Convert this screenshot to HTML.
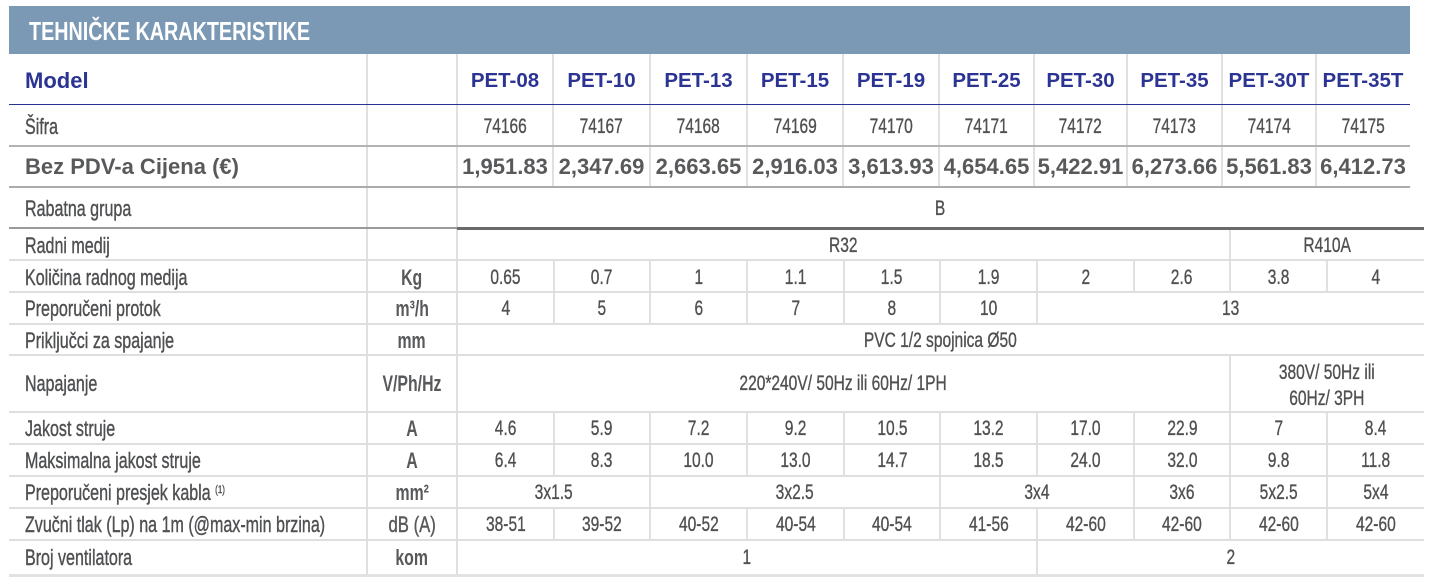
<!DOCTYPE html>
<html><head><meta charset="utf-8">
<style>
html,body{margin:0;padding:0;background:#fff;}
body{width:1437px;height:581px;position:relative;overflow:hidden;font-family:"Liberation Sans",Arial,sans-serif;}
.bar{position:absolute;left:9px;top:6px;width:1401px;height:48px;background:#7b99b5;}
.title{position:absolute;left:29px;top:16px;height:30px;line-height:30px;color:#fff;font-weight:bold;font-size:26px;white-space:nowrap;}
.title span{display:inline-block;transform:scaleX(.76);transform-origin:left center;}
.v{position:absolute;width:2px;background:#e0e0e0;}
.h{position:absolute;height:2px;background:#dedede;}
.t{position:absolute;height:30px;line-height:30px;text-align:center;white-space:nowrap;color:#505052;font-size:21px;-webkit-text-stroke:0.35px #505052;}
.t span{display:inline-block;transform:scaleX(.74);}
.l{position:absolute;left:25px;height:30px;line-height:30px;white-space:nowrap;color:#4f5052;font-size:22px;-webkit-text-stroke:0.4px #4f5052;}
.l span{display:inline-block;transform:scaleX(.73);transform-origin:left center;}
.u{position:absolute;left:367px;width:90px;height:30px;line-height:30px;text-align:center;white-space:nowrap;color:#58595b;font-size:22px;font-weight:bold;}
.u span{display:inline-block;transform:scaleX(.72);}
.m{position:absolute;height:30px;line-height:30px;text-align:center;white-space:nowrap;color:#2b3393;font-size:20.5px;font-weight:bold;}
.p{position:absolute;height:30px;line-height:30px;text-align:center;white-space:nowrap;color:#58595b;font-size:22px;font-weight:bold;}
sup{font-size:11px;vertical-align:top;position:relative;top:-3px;}
</style></head><body>
<div class="bar"></div>
<div class="title"><span>TEHNIČKE KARAKTERISTIKE</span></div>

<!-- vertical lines -->
<div class="v" style="left:366px;top:54px;height:521px"></div>
<div class="v" style="left:456px;top:54px;height:521px"></div>
<!-- top grid -->
<div class="v" style="left:552px;top:54px;height:133px"></div>
<div class="v" style="left:649px;top:54px;height:133px"></div>
<div class="v" style="left:746px;top:54px;height:133px"></div>
<div class="v" style="left:842px;top:54px;height:133px"></div>
<div class="v" style="left:938px;top:54px;height:133px"></div>
<div class="v" style="left:1033px;top:54px;height:133px"></div>
<div class="v" style="left:1126px;top:54px;height:133px"></div>
<div class="v" style="left:1221px;top:54px;height:133px"></div>
<div class="v" style="left:1315px;top:54px;height:133px"></div>
<!-- Radni medij -->
<div class="v" style="left:1229px;top:228px;height:32px"></div>
<!-- Kolicina -->
<div class="v" style="left:553px;top:260px;height:32px"></div>
<div class="v" style="left:649px;top:260px;height:32px"></div>
<div class="v" style="left:746px;top:260px;height:32px"></div>
<div class="v" style="left:843px;top:260px;height:32px"></div>
<div class="v" style="left:939px;top:260px;height:32px"></div>
<div class="v" style="left:1036px;top:260px;height:32px"></div>
<div class="v" style="left:1133px;top:260px;height:32px"></div>
<div class="v" style="left:1229px;top:260px;height:32px"></div>
<div class="v" style="left:1326px;top:260px;height:32px"></div>
<!-- Protok -->
<div class="v" style="left:553px;top:292px;height:32px"></div>
<div class="v" style="left:649px;top:292px;height:32px"></div>
<div class="v" style="left:746px;top:292px;height:32px"></div>
<div class="v" style="left:843px;top:292px;height:32px"></div>
<div class="v" style="left:939px;top:292px;height:32px"></div>
<div class="v" style="left:1036px;top:292px;height:32px"></div>
<!-- Napajanje -->
<div class="v" style="left:1229px;top:355px;height:57px"></div>
<!-- Jakost + Maks -->
<div class="v" style="left:553px;top:412px;height:64px"></div>
<div class="v" style="left:649px;top:412px;height:64px"></div>
<div class="v" style="left:746px;top:412px;height:64px"></div>
<div class="v" style="left:843px;top:412px;height:64px"></div>
<div class="v" style="left:939px;top:412px;height:64px"></div>
<div class="v" style="left:1036px;top:412px;height:64px"></div>
<div class="v" style="left:1133px;top:412px;height:64px"></div>
<div class="v" style="left:1229px;top:412px;height:64px"></div>
<div class="v" style="left:1326px;top:412px;height:64px"></div>
<!-- Presjek -->
<div class="v" style="left:649px;top:476px;height:32px"></div>
<div class="v" style="left:939px;top:476px;height:32px"></div>
<div class="v" style="left:1133px;top:476px;height:32px"></div>
<div class="v" style="left:1229px;top:476px;height:32px"></div>
<div class="v" style="left:1326px;top:476px;height:32px"></div>
<!-- Zvucni -->
<div class="v" style="left:553px;top:508px;height:32px"></div>
<div class="v" style="left:649px;top:508px;height:32px"></div>
<div class="v" style="left:746px;top:508px;height:32px"></div>
<div class="v" style="left:843px;top:508px;height:32px"></div>
<div class="v" style="left:939px;top:508px;height:32px"></div>
<div class="v" style="left:1036px;top:508px;height:32px"></div>
<div class="v" style="left:1133px;top:508px;height:32px"></div>
<div class="v" style="left:1229px;top:508px;height:32px"></div>
<div class="v" style="left:1326px;top:508px;height:32px"></div>
<!-- Broj -->
<div class="v" style="left:1036px;top:540px;height:35px"></div>

<!-- horizontal lines -->
<div class="h" style="left:9px;top:103.5px;width:1401px;height:1.5px;background:#2b3190"></div>
<div class="h" style="left:9px;top:145px;width:1401px;height:2px;background:#b3b3b3"></div>
<div class="h" style="left:9px;top:186px;width:1401px;height:2px;background:#ababab"></div>
<div class="h" style="left:9px;top:227px;width:448px;height:2px;background:#9a9a9a"></div>
<div class="h" style="left:457px;top:226.5px;width:967px;height:3px;background:#6a6a6a"></div>
<div class="h" style="left:9px;top:259px;width:1415px"></div>
<div class="h" style="left:9px;top:291px;width:1415px"></div>
<div class="h" style="left:9px;top:322.5px;width:1415px"></div>
<div class="h" style="left:9px;top:354px;width:1415px"></div>
<div class="h" style="left:9px;top:410.5px;width:1415px"></div>
<div class="h" style="left:9px;top:442.5px;width:1415px"></div>
<div class="h" style="left:9px;top:474.5px;width:1415px"></div>
<div class="h" style="left:9px;top:506.5px;width:1415px"></div>
<div class="h" style="left:9px;top:538.5px;width:1415px"></div>
<div class="h" style="left:9px;top:574px;width:1415px;height:3px;background:#e2e2e2"></div>

<!-- Model row -->
<div class="m" style="left:25px;top:65.5px;font-size:22px;text-align:left">Model</div>
<div class="m" style="left:457px;width:96px;top:65.5px">PET-08</div>
<div class="m" style="left:553px;width:97px;top:65.5px">PET-10</div>
<div class="m" style="left:650px;width:97px;top:65.5px">PET-13</div>
<div class="m" style="left:747px;width:96px;top:65.5px">PET-15</div>
<div class="m" style="left:843px;width:96px;top:65.5px">PET-19</div>
<div class="m" style="left:939px;width:95px;top:65.5px">PET-25</div>
<div class="m" style="left:1034px;width:93px;top:65.5px">PET-30</div>
<div class="m" style="left:1127px;width:95px;top:65.5px">PET-35</div>
<div class="m" style="left:1222px;width:94px;top:65.5px">PET-30T</div>
<div class="m" style="left:1316px;width:94px;top:65.5px">PET-35T</div>

<!-- Sifra -->
<div class="l" style="top:112px"><span>Šifra</span></div>
<div class="t" style="left:457px;width:96px;top:112px"><span>74166</span></div>
<div class="t" style="left:553px;width:97px;top:112px"><span>74167</span></div>
<div class="t" style="left:650px;width:97px;top:112px"><span>74168</span></div>
<div class="t" style="left:747px;width:96px;top:112px"><span>74169</span></div>
<div class="t" style="left:843px;width:96px;top:112px"><span>74170</span></div>
<div class="t" style="left:939px;width:95px;top:112px"><span>74171</span></div>
<div class="t" style="left:1034px;width:93px;top:112px"><span>74172</span></div>
<div class="t" style="left:1127px;width:95px;top:112px"><span>74173</span></div>
<div class="t" style="left:1222px;width:94px;top:112px"><span>74174</span></div>
<div class="t" style="left:1316px;width:94px;top:112px"><span>74175</span></div>

<!-- Price -->
<div class="p" style="left:25px;top:152px;text-align:left">Bez PDV-a Cijena (€)</div>
<div class="p" style="left:457px;width:96px;top:152px">1,951.83</div>
<div class="p" style="left:553px;width:97px;top:152px">2,347.69</div>
<div class="p" style="left:650px;width:97px;top:152px">2,663.65</div>
<div class="p" style="left:747px;width:96px;top:152px">2,916.03</div>
<div class="p" style="left:843px;width:96px;top:152px">3,613.93</div>
<div class="p" style="left:939px;width:95px;top:152px">4,654.65</div>
<div class="p" style="left:1034px;width:93px;top:152px">5,422.91</div>
<div class="p" style="left:1127px;width:95px;top:152px">6,273.66</div>
<div class="p" style="left:1222px;width:94px;top:152px">5,561.83</div>
<div class="p" style="left:1316px;width:94px;top:152px">6,412.73</div>

<!-- Rabatna -->
<div class="l" style="top:194px"><span>Rabatna grupa</span></div>
<div class="t" style="left:457px;width:967px;top:194px"><span>B</span></div>

<!-- Radni medij -->
<div class="l" style="top:230.5px"><span>Radni medij</span></div>
<div class="t" style="left:457px;width:773px;top:230.5px"><span>R32</span></div>
<div class="t" style="left:1230px;width:194px;top:230.5px"><span>R410A</span></div>

<!-- Kolicina -->
<div class="l" style="top:262.5px"><span>Količina radnog medija</span></div>
<div class="u" style="top:262.5px"><span>Kg</span></div>
<div class="t" style="left:457px;width:97px;top:262.5px"><span>0.65</span></div>
<div class="t" style="left:554px;width:96px;top:262.5px"><span>0.7</span></div>
<div class="t" style="left:650px;width:97px;top:262.5px"><span>1</span></div>
<div class="t" style="left:747px;width:97px;top:262.5px"><span>1.1</span></div>
<div class="t" style="left:844px;width:96px;top:262.5px"><span>1.5</span></div>
<div class="t" style="left:940px;width:97px;top:262.5px"><span>1.9</span></div>
<div class="t" style="left:1037px;width:97px;top:262.5px"><span>2</span></div>
<div class="t" style="left:1134px;width:96px;top:262.5px"><span>2.6</span></div>
<div class="t" style="left:1230px;width:97px;top:262.5px"><span>3.8</span></div>
<div class="t" style="left:1327px;width:97px;top:262.5px"><span>4</span></div>

<!-- Protok -->
<div class="l" style="top:294px"><span>Preporučeni protok</span></div>
<div class="u" style="top:294px"><span>m³/h</span></div>
<div class="t" style="left:457px;width:97px;top:294px"><span>4</span></div>
<div class="t" style="left:554px;width:96px;top:294px"><span>5</span></div>
<div class="t" style="left:650px;width:97px;top:294px"><span>6</span></div>
<div class="t" style="left:747px;width:97px;top:294px"><span>7</span></div>
<div class="t" style="left:844px;width:96px;top:294px"><span>8</span></div>
<div class="t" style="left:940px;width:97px;top:294px"><span>10</span></div>
<div class="t" style="left:1037px;width:387px;top:294px"><span>13</span></div>

<!-- Prikljucci -->
<div class="l" style="top:325.5px"><span>Priključci za spajanje</span></div>
<div class="u" style="top:325.5px"><span>mm</span></div>
<div class="t" style="left:457px;width:967px;top:325.5px"><span>PVC 1/2 spojnica Ø50</span></div>

<!-- Napajanje -->
<div class="l" style="top:369px"><span>Napajanje</span></div>
<div class="u" style="top:369px"><span>V/Ph/Hz</span></div>
<div class="t" style="left:457px;width:773px;top:369px"><span>220*240V/ 50Hz ili 60Hz/ 1PH</span></div>
<div class="t" style="left:1230px;width:194px;top:357.5px"><span>380V/ 50Hz ili</span></div>
<div class="t" style="left:1230px;width:194px;top:384px"><span>60Hz/ 3PH</span></div>

<!-- Jakost -->
<div class="l" style="top:414px"><span>Jakost struje</span></div>
<div class="u" style="top:414px"><span>A</span></div>
<div class="t" style="left:457px;width:97px;top:414px"><span>4.6</span></div>
<div class="t" style="left:554px;width:96px;top:414px"><span>5.9</span></div>
<div class="t" style="left:650px;width:97px;top:414px"><span>7.2</span></div>
<div class="t" style="left:747px;width:97px;top:414px"><span>9.2</span></div>
<div class="t" style="left:844px;width:96px;top:414px"><span>10.5</span></div>
<div class="t" style="left:940px;width:97px;top:414px"><span>13.2</span></div>
<div class="t" style="left:1037px;width:97px;top:414px"><span>17.0</span></div>
<div class="t" style="left:1134px;width:96px;top:414px"><span>22.9</span></div>
<div class="t" style="left:1230px;width:97px;top:414px"><span>7</span></div>
<div class="t" style="left:1327px;width:97px;top:414px"><span>8.4</span></div>

<!-- Maks -->
<div class="l" style="top:446px"><span>Maksimalna jakost struje</span></div>
<div class="u" style="top:446px"><span>A</span></div>
<div class="t" style="left:457px;width:97px;top:446px"><span>6.4</span></div>
<div class="t" style="left:554px;width:96px;top:446px"><span>8.3</span></div>
<div class="t" style="left:650px;width:97px;top:446px"><span>10.0</span></div>
<div class="t" style="left:747px;width:97px;top:446px"><span>13.0</span></div>
<div class="t" style="left:844px;width:96px;top:446px"><span>14.7</span></div>
<div class="t" style="left:940px;width:97px;top:446px"><span>18.5</span></div>
<div class="t" style="left:1037px;width:97px;top:446px"><span>24.0</span></div>
<div class="t" style="left:1134px;width:96px;top:446px"><span>32.0</span></div>
<div class="t" style="left:1230px;width:97px;top:446px"><span>9.8</span></div>
<div class="t" style="left:1327px;width:97px;top:446px"><span>11.8</span></div>

<!-- Presjek -->
<div class="l" style="top:478px"><span>Preporučeni presjek kabla <sup>(1)</sup></span></div>
<div class="u" style="top:478px"><span>mm²</span></div>
<div class="t" style="left:457px;width:193px;top:478px"><span>3x1.5</span></div>
<div class="t" style="left:650px;width:290px;top:478px"><span>3x2.5</span></div>
<div class="t" style="left:940px;width:194px;top:478px"><span>3x4</span></div>
<div class="t" style="left:1134px;width:96px;top:478px"><span>3x6</span></div>
<div class="t" style="left:1230px;width:97px;top:478px"><span>5x2.5</span></div>
<div class="t" style="left:1327px;width:97px;top:478px"><span>5x4</span></div>

<!-- Zvucni -->
<div class="l" style="top:510px"><span>Zvučni tlak (Lp) na 1m (@max-min brzina)</span></div>
<div class="u" style="top:510px;font-weight:normal;-webkit-text-stroke:0.4px #58595b"><span style="transform:scaleX(.76)">dB (A)</span></div>
<div class="t" style="left:457px;width:97px;top:510px"><span>38-51</span></div>
<div class="t" style="left:554px;width:96px;top:510px"><span>39-52</span></div>
<div class="t" style="left:650px;width:97px;top:510px"><span>40-52</span></div>
<div class="t" style="left:747px;width:97px;top:510px"><span>40-54</span></div>
<div class="t" style="left:844px;width:96px;top:510px"><span>40-54</span></div>
<div class="t" style="left:940px;width:97px;top:510px"><span>41-56</span></div>
<div class="t" style="left:1037px;width:97px;top:510px"><span>42-60</span></div>
<div class="t" style="left:1134px;width:96px;top:510px"><span>42-60</span></div>
<div class="t" style="left:1230px;width:97px;top:510px"><span>42-60</span></div>
<div class="t" style="left:1327px;width:97px;top:510px"><span>42-60</span></div>

<!-- Broj -->
<div class="l" style="top:543px"><span>Broj ventilatora</span></div>
<div class="u" style="top:543px"><span>kom</span></div>
<div class="t" style="left:457px;width:580px;top:543px"><span>1</span></div>
<div class="t" style="left:1037px;width:387px;top:543px"><span>2</span></div>
</body></html>
